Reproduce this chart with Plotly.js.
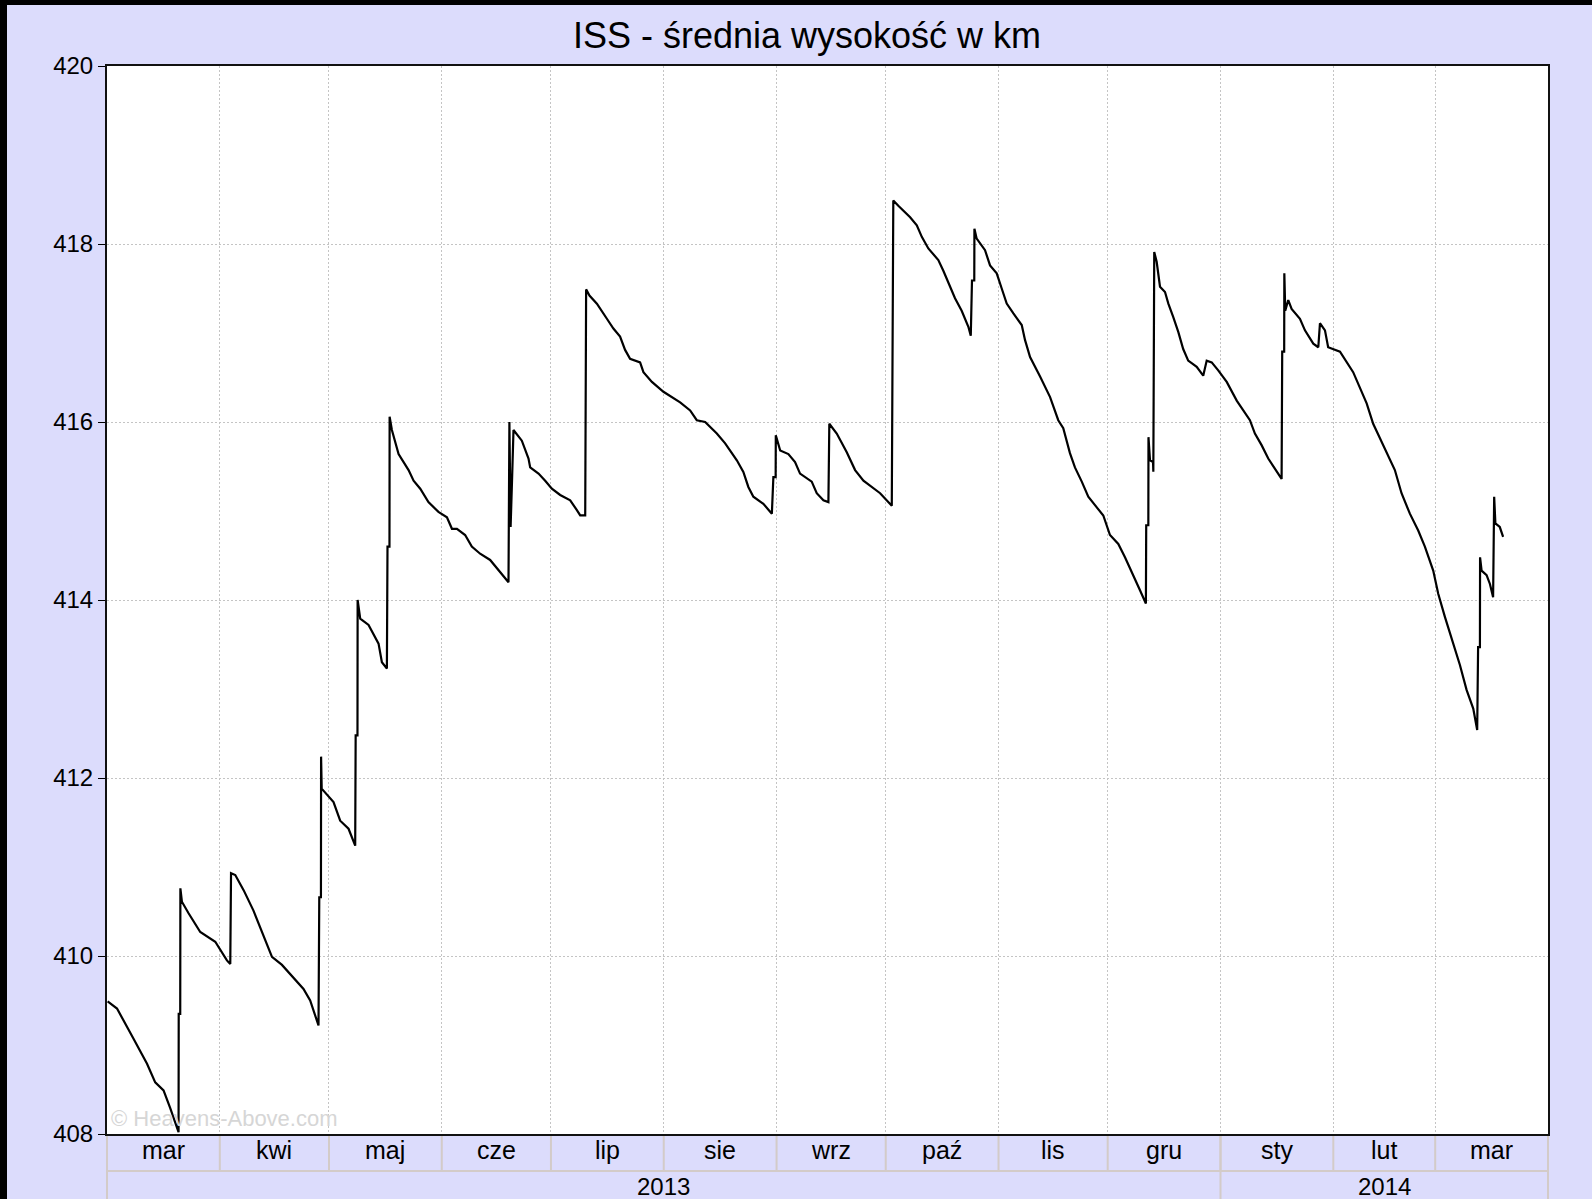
<!DOCTYPE html>
<html><head><meta charset="utf-8">
<script src="https://cdn.plot.ly/plotly-3.0.1.min.js"></script>
<style>
html,body{margin:0;padding:0;background:#000;overflow:hidden;}
#chart{position:absolute;left:7px;top:5px;width:1585px;height:1194px;}
</style></head><body><div id="chart"></div>
<script>
const titleText = 'ISS - średnia wysokość w km';
const watermarkText = '© Heavens-Above.com';

const dates = [
'2013-03-01 04:00','2013-03-03 18:00','2013-03-08 07:00','2013-03-12 00:00','2013-03-14 06:00','2013-03-16 13:00','2013-03-18 09:00','2013-03-20 16:00',
'2013-03-20 17:00','2013-03-21 03:00','2013-03-21 04:00','2013-03-21 14:00','2013-03-23 10:00','2013-03-26 15:00','2013-03-30 18:00','2013-04-02 23:00','2013-04-03 21:00',
'2013-04-04 02:00','2013-04-05 06:00','2013-04-07 13:00','2013-04-10 06:00','2013-04-13 00:00','2013-04-15 08:00','2013-04-18 02:00','2013-04-21 06:00','2013-04-24 00:00','2013-04-25 20:00','2013-04-28 03:00',
'2013-04-28 08:00','2013-04-28 19:00','2013-04-28 20:00','2013-04-29 00:00','2013-05-02 06:00','2013-05-04 02:00','2013-05-06 09:00','2013-05-08 05:00',
'2013-05-08 08:00','2013-05-08 20:00','2013-05-08 21:00','2013-05-09 14:00','2013-05-11 21:00','2013-05-13 06:00','2013-05-14 15:00','2013-05-15 13:00','2013-05-16 22:00',
'2013-05-17 02:00','2013-05-17 15:00','2013-05-17 16:00','2013-05-18 07:00','2013-05-20 03:00','2013-05-22 21:00','2013-05-24 06:00','2013-05-26 02:00','2013-05-28 08:00','2013-05-31 02:00',
'2013-06-02 10:00','2013-06-03 19:00','2013-06-05 04:00','2013-06-07 10:00','2013-06-09 06:00','2013-06-11 13:00','2013-06-14 07:00','2013-06-17 01:00','2013-06-19 08:00',
'2013-06-19 14:00','2013-06-19 22:00','2013-06-20 08:00','2013-06-20 17:00','2013-06-23 00:00','2013-06-24 20:00','2013-06-25 07:00','2013-06-27 14:00','2013-06-29 10:00',
'2013-07-01 06:00','2013-07-03 13:00','2013-07-06 07:00','2013-07-08 03:00','2013-07-09 01:00','2013-07-10 10:00',
'2013-07-10 16:00','2013-07-11 14:00','2013-07-13 15:00','2013-07-16 09:00','2013-07-18 04:00','2013-07-20 00:00','2013-07-21 09:00','2013-07-22 18:00','2013-07-25 12:00','2013-07-26 10:00','2013-07-28 18:00','2013-07-31 22:00',
'2013-08-05 12:00','2013-08-08 06:00','2013-08-10 02:00','2013-08-12 09:00','2013-08-15 14:00','2013-08-17 21:00','2013-08-21 02:00','2013-08-22 21:00','2013-08-24 06:00','2013-08-25 15:00','2013-08-28 09:00','2013-08-30 17:00',
'2013-08-31 03:00','2013-08-31 18:00','2013-08-31 19:00','2013-09-02 00:00','2013-09-04 06:00','2013-09-06 02:00','2013-09-07 11:00','2013-09-10 16:00','2013-09-12 01:00','2013-09-13 21:00','2013-09-15 06:00',
'2013-09-15 12:00','2013-09-17 13:00','2013-09-20 07:00','2013-09-22 14:00','2013-09-24 21:00','2013-09-27 04:00','2013-09-29 11:00','2013-10-02 16:00',
'2013-10-03 02:00','2013-10-04 11:00','2013-10-07 17:00','2013-10-09 13:00','2013-10-10 22:00','2013-10-12 17:00','2013-10-15 11:00','2013-10-16 20:00','2013-10-18 16:00','2013-10-20 01:00','2013-10-21 21:00','2013-10-23 17:00','2013-10-24 09:00',
'2013-10-24 17:00','2013-10-25 08:00','2013-10-25 09:00','2013-10-26 00:00','2013-10-28 07:00','2013-10-29 16:00','2013-10-31 12:00','2013-11-01 21:00','2013-11-03 06:00','2013-11-05 02:00','2013-11-07 09:00','2013-11-08 07:00','2013-11-09 16:00',
'2013-11-12 10:00','2013-11-15 04:00','2013-11-17 10:00','2013-11-18 19:00','2013-11-20 15:00','2013-11-22 00:00','2013-11-23 21:00','2013-11-25 16:00','2013-11-28 00:00','2013-11-29 19:00',
'2013-12-01 15:00','2013-12-03 22:00','2013-12-05 18:00','2013-12-07 03:00','2013-12-08 12:00','2013-12-09 21:00','2013-12-11 12:00',
'2013-12-11 14:00','2013-12-12 04:00','2013-12-12 05:00','2013-12-12 15:00','2013-12-13 11:00','2013-12-13 13:00','2013-12-13 19:00',
'2013-12-14 11:00','2013-12-15 09:00','2013-12-16 18:00','2013-12-17 16:00','2013-12-19 00:00','2013-12-20 10:00','2013-12-21 18:00','2013-12-23 03:00','2013-12-25 11:00','2013-12-27 06:00','2013-12-28 05:00','2013-12-29 14:00','2013-12-31 09:00',
'2014-01-02 17:00','2014-01-05 11:00','2014-01-07 17:00','2014-01-09 02:00','2014-01-10 11:00','2014-01-12 07:00','2014-01-14 03:00','2014-01-15 23:00','2014-01-17 19:00',
'2014-01-17 23:00','2014-01-18 12:00','2014-01-18 13:00','2014-01-18 19:00','2014-01-19 15:00','2014-01-20 13:00','2014-01-22 20:00','2014-01-24 05:00','2014-01-26 12:00','2014-01-27 21:00','2014-01-28 08:00','2014-01-29 17:00','2014-01-30 14:00',
'2014-02-01 11:00','2014-02-02 20:00','2014-02-06 11:00','2014-02-10 04:00','2014-02-11 23:00','2014-02-15 16:00','2014-02-17 22:00','2014-02-19 18:00','2014-02-22 01:00','2014-02-24 08:00','2014-02-26 04:00','2014-02-28 11:00',
'2014-03-01 20:00','2014-03-03 16:00','2014-03-05 23:00','2014-03-07 19:00','2014-03-09 15:00','2014-03-11 11:00','2014-03-12 13:00',
'2014-03-12 19:00','2014-03-13 07:00','2014-03-13 08:00','2014-03-13 18:00','2014-03-15 03:00','2014-03-16 01:00','2014-03-16 22:00',
'2014-03-17 05:00','2014-03-17 13:00','2014-03-18 18:00','2014-03-19 16:00'
];

const altitudeKm = [
409.49,409.41,409.07,408.79,408.58,408.49,408.29,408.02,
409.35,409.35,410.76,410.61,410.48,410.27,410.16,409.95,409.91,
410.93,410.91,410.74,410.51,410.23,409.99,409.90,409.76,409.63,409.50,409.22,
410.66,410.66,412.24,411.88,411.73,411.52,411.43,411.24,
412.48,412.48,414.00,413.79,413.72,413.62,413.51,413.30,413.23,
414.60,414.60,416.06,415.91,415.64,415.46,415.34,415.25,415.10,414.99,
414.93,414.80,414.80,414.73,414.60,414.52,414.45,414.31,414.20,
416.00,414.82,415.38,415.91,415.79,415.59,415.49,415.42,415.34,
415.25,415.18,415.12,415.01,414.95,414.95,
417.49,417.42,417.33,417.16,417.05,416.96,416.81,416.71,416.67,416.56,416.45,416.34,
416.22,416.13,416.02,416.00,415.87,415.76,415.57,415.44,415.27,415.16,415.08,414.97,
415.38,415.38,415.85,415.68,415.64,415.55,415.42,415.33,415.20,415.12,415.10,
415.98,415.87,415.66,415.46,415.34,415.27,415.20,415.06,
418.49,418.43,418.30,418.21,418.08,417.95,417.82,417.70,417.52,417.39,417.25,417.07,416.97,
417.59,417.59,418.17,418.06,417.93,417.76,417.67,417.50,417.33,417.22,417.09,416.92,416.73,
416.51,416.28,416.02,415.93,415.65,415.49,415.33,415.16,415.04,414.95,
414.73,414.63,414.48,414.35,414.24,414.11,413.96,
414.84,414.84,415.83,415.57,415.55,415.44,417.91,
417.80,417.52,417.46,417.33,417.18,417.01,416.82,416.69,416.62,416.52,416.69,416.67,416.58,
416.45,416.24,416.11,416.02,415.87,415.74,415.59,415.48,415.36,
416.79,416.79,417.67,417.25,417.37,417.27,417.16,417.03,416.88,416.84,417.11,417.03,416.84,
416.81,416.79,416.56,416.21,415.98,415.65,415.46,415.20,414.97,414.78,414.60,414.33,
414.07,413.81,413.51,413.27,412.99,412.78,412.54,
413.47,413.47,414.48,414.33,414.28,414.18,414.03,
415.16,414.86,414.82,414.71
];

const monthStarts = ['2013-03-01','2013-04-01','2013-05-01','2013-06-01','2013-07-01','2013-08-01','2013-09-01',
  '2013-10-01','2013-11-01','2013-12-01','2014-01-01','2014-02-01','2014-03-01','2014-04-01'];
const monthLabels = ['mar','kwi','maj','cze','lip','sie','wrz','paź','lis','gru','sty','lut','mar'];
const yearLabels = ['2013','2014'];
const yearStarts = ['2013-03-01','2014-01-01'];
const yearEnds = ['2014-01-01','2014-04-01'];
const yTicks = [408,410,412,414,416,418,420];

const FONT = 'Liberation Sans, Arial, sans-serif';
const sepColor = '#d3cbc8';
const H = 1194, PLOT_H = 1068;
const rowMonth = -37 / PLOT_H;
const rowBottom = -80 / PLOT_H;

function mid(a, b) {
  const t = (new Date(a + 'T00:00:00Z').getTime() + new Date(b + 'T00:00:00Z').getTime()) / 2;
  return new Date(t).toISOString().slice(0, 19).replace('T', ' ');
}

const shapes = [];
const annotations = [];
for (let i = 0; i < monthLabels.length; i++) {
  annotations.push({xref:'x', yref:'paper', x: mid(monthStarts[i], monthStarts[i+1]), y: -16/PLOT_H,
    text: monthLabels[i], showarrow:false, xanchor:'center', yanchor:'middle',
    font:{family:FONT, size:25, color:'#000'}});
  if (i > 0) shapes.push({type:'line', xref:'x', yref:'paper', x0: monthStarts[i], x1: monthStarts[i], y0: 0, y1: rowMonth,
    line:{color:sepColor, width:2}, layer:'below'});
}
for (let i = 0; i < yearLabels.length; i++) {
  annotations.push({xref:'x', yref:'paper', x: mid(yearStarts[i], yearEnds[i]), y: -52/PLOT_H,
    text: yearLabels[i], showarrow:false, xanchor:'center', yanchor:'middle',
    font:{family:FONT, size:24, color:'#000'}});
  if (i > 0) shapes.push({type:'line', xref:'x', yref:'paper', x0: yearStarts[i], x1: yearStarts[i], y0: 0, y1: rowBottom,
    line:{color:sepColor, width:2}, layer:'below'});
}
shapes.push({type:'line', xref:'paper', yref:'paper', x0:0, x1:0, y0:0, y1:rowBottom, line:{color:sepColor, width:2}, layer:'below'});
shapes.push({type:'line', xref:'paper', yref:'paper', x0:1, x1:1, y0:0, y1:rowBottom, line:{color:sepColor, width:2}, layer:'below'});
shapes.push({type:'line', xref:'paper', yref:'paper', x0:0, x1:1, y0:rowMonth, y1:rowMonth, line:{color:sepColor, width:2}, layer:'below'});

annotations.push({xref:'paper', yref:'paper', x:0, y:0, xanchor:'left', yanchor:'bottom', xshift:2, yshift:1,
  text: watermarkText, showarrow:false, font:{family:FONT, size:22, color:'#d6d6d6'}});

const trace = {type:'scatter', mode:'lines', x: dates, y: altitudeKm,
  line:{color:'#000', width:2.2, shape:'linear'}, hoverinfo:'skip'};

const gridDash = '2px,2px';
const layout = {
  width:1585, height:H,
  paper_bgcolor:'#dcdcfc', plot_bgcolor:'#ffffff',
  margin:{l:100, r:44, t:61, b:65, pad:0},
  font:{family:FONT, color:'#000'},
  showlegend:false,
  title:{text:titleText, font:{family:FONT, size:36, color:'#000'}, xref:'container', x:0.5047, xanchor:'center', yref:'container', y:1-30.5/H, yanchor:'middle'},
  xaxis:{type:'date', range:[monthStarts[0], monthStarts[monthStarts.length-1]], tickvals:monthStarts, showticklabels:false, ticks:'',
    showgrid:true, gridcolor:'#c4c4c4', gridwidth:1, griddash:gridDash, showline:true, linecolor:'#111', linewidth:2, mirror:true, zeroline:false, fixedrange:true},
  yaxis:{range:[408,420], tickvals:yTicks, ticktext:yTicks.map(String), ticks:'outside', ticklen:7, tickwidth:1, tickcolor:'#000',
    showgrid:true, gridcolor:'#c4c4c4', gridwidth:1, griddash:gridDash, showline:true, linecolor:'#111', linewidth:2, mirror:true, zeroline:false,
    tickfont:{family:FONT, size:24, color:'#000'}, fixedrange:true},
  shapes: shapes,
  annotations: annotations
};
Plotly.newPlot('chart', [trace], layout, {displayModeBar:false, staticPlot:true});
</script>
</body></html>
